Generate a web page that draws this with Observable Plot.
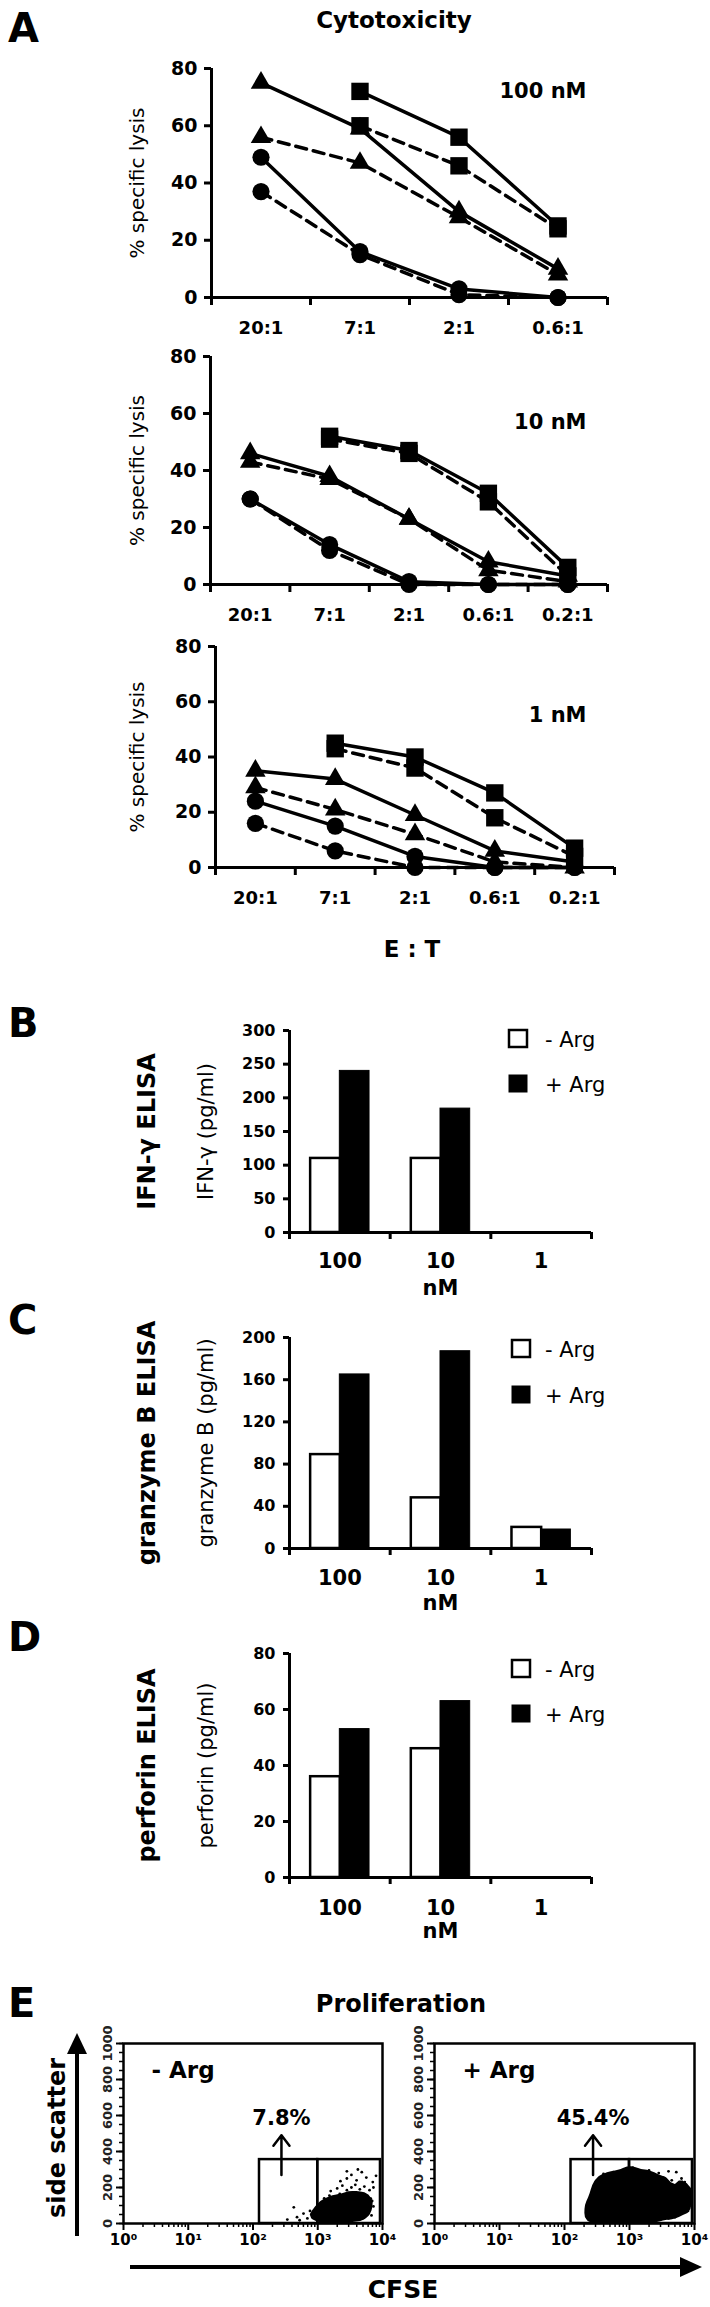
<!DOCTYPE html>
<html><head><meta charset="utf-8">
<script src="https://cdn.jsdelivr.net/npm/d3@7"></script>
<script src="https://cdn.jsdelivr.net/npm/@observablehq/plot@0.6"></script>
<style>
html,body{margin:0;padding:0;background:#fff;}
#fig{position:relative;width:710px;height:2307px;overflow:hidden;background:#fff;font-family:"DejaVu Sans",sans-serif;}
</style></head><body><div id="fig"></div>
<script>
const FONT = "DejaVu Sans";

// ---------- Panel A: cytotoxicity (% specific lysis) ----------
const ratios100nM = ["20:1", "7:1", "2:1", "0.6:1"];
const ratiosLow = ["20:1", "7:1", "2:1", "0.6:1", "0.2:1"];
const seriesSymbol = ["square", "square", "triangle", "triangle", "circle", "circle"];
const seriesDashed = [false, true, false, true, false, true];
const lysis100nM = [
  [null, 72, 56, 25],
  [null, 60, 46, 24],
  [75, 59, 30, 10],
  [56, 47, 28, 8],
  [49, 16, 3, 0],
  [37, 15, 1, 0]
];
const lysis10nM = [
  [null, 52, 47, 32, 6],
  [null, 51, 46, 29, 3],
  [46, 38, 23, 8, 3],
  [43, 37, 23, 5, 1],
  [30, 14, 1, 0, 0],
  [30, 12, 0, 0, 0]
];
const lysis1nM = [
  [null, 45, 40, 27, 7],
  [null, 43, 36, 18, 4],
  [35, 32, 19, 6, 2],
  [29, 21, 12, 2, 0],
  [24, 15, 4, 0, 0],
  [16, 6, 0, 0, 0]
];
const lysisTicks = [0, 20, 40, 60, 80];

// ---------- Panels B-D: ELISA ----------
const doses = ["100", "10", "1"];
const ifngMinusArg = [110, 110, 0];
const ifngPlusArg = [240, 184, 0];
const ifngTicks = [0, 50, 100, 150, 200, 250, 300];
const grzbMinusArg = [89, 48, 20];
const grzbPlusArg = [165, 187, 18];
const grzbTicks = [0, 40, 80, 120, 160, 200];
const perfMinusArg = [36, 46, 0];
const perfPlusArg = [53, 63, 0];
const perfTicks = [0, 20, 40, 60, 80];

// ---------- Panel E: proliferation (log10 CFSE, side scatter) ----------
const flowYTicks = [0, 200, 400, 600, 800, 1000];
const flowXTicks = [1, 10, 100, 1000, 10000];
const gateCFSE = [126, 1000, 9300];
const gateSSC = 355;
const proliferatedArrowCFSE = 275;
const proliferatedArrowSSC = [270, 490];
const pctLabelSSC = 585;
const minusArgPct = "7.8%";
const plusArgPct = "45.4%";
const minusArgEvents = [
  [2.53,22],[2.63,90],[2.68,35],[2.72,18],[2.78,55],[2.84,28],[2.88,70],[2.92,40],
  [2.95,30],[3.0,25],[3.05,35],[3.1,22],[3.15,30],[3.2,38],[3.25,25],[3.3,32],[3.35,20],[3.4,35],[3.45,28],[3.5,38],[3.55,25],[3.6,33],[3.65,40],[3.7,30],
  [2.97,55],[3.02,48],[3.07,62],[3.12,45],[3.17,58],[3.22,50],[3.27,65],[3.32,45],[3.37,58],[3.42,52],[3.47,68],[3.52,48],[3.57,60],[3.62,55],[3.67,65],[3.72,50],[3.78,60],[3.83,45],
  [3.08,70],[3.18,68],[3.28,72],[3.38,66],[3.48,74],[3.58,70],
  [3.0,80],[3.05,92],[3.1,75],[3.15,88],[3.2,78],[3.25,95],[3.3,82],[3.35,90],[3.4,76],[3.45,98],[3.5,84],[3.55,92],[3.6,78],[3.65,95],[3.7,85],[3.75,92],[3.8,80],[3.86,95],
  [3.05,110],[3.12,120],[3.18,105],[3.24,125],[3.3,112],[3.36,128],[3.42,108],[3.48,122],[3.54,115],[3.6,128],[3.66,110],[3.72,120],[3.78,112],[3.84,125],
  [3.1,140],[3.18,155],[3.26,145],[3.34,165],[3.4,140],[3.46,158],[3.52,148],[3.58,168],[3.64,145],[3.7,160],[3.76,150],[3.82,138],
  [3.2,180],[3.3,195],[3.38,210],[3.45,185],[3.52,200],[3.58,215],[3.65,190],[3.72,205],[3.8,185],[3.86,200],
  [3.35,235],[3.45,250],[3.52,270],[3.6,240],[3.68,285],[3.75,255],[3.85,230],[3.62,300],[3.45,290],[3.9,265],
  [3.03,40],[3.15,42],[3.27,38],[3.39,44],[3.51,40],[3.63,46],
  [3.03,75],[3.15,73],[3.27,78],[3.39,72],[3.51,77],[3.63,74],
  [3.09,100],[3.21,104],[3.33,98],[3.45,105],[3.57,101],[3.69,98]
];
const plusArgEvents = [
  [2.4,25],[2.5,30],[2.6,22],[2.7,28],[2.8,20],[2.9,30],[3.0,24],[3.1,28],[3.2,22],[3.3,30],[3.4,26],[3.5,32],[3.6,28],[3.7,35],
  [2.38,55],[2.46,60],[2.55,50],[2.64,58],[2.73,52],[2.82,62],[2.91,50],[3.0,58],[3.09,54],[3.18,62],[3.27,50],[3.36,58],[3.45,55],[3.54,62],[3.63,50],[3.72,58],[3.81,62],[3.9,70],
  [2.4,90],[2.48,95],[2.57,85],[2.66,92],[2.75,88],[2.84,98],[2.93,85],[3.02,95],[3.11,88],[3.2,92],[3.29,85],[3.38,96],[3.47,88],[3.56,94],[3.65,86],[3.74,98],[3.83,90],[3.92,95],
  [2.42,125],[2.5,130],[2.59,120],[2.68,128],[2.77,122],[2.86,132],[2.95,120],[3.04,130],[3.13,124],[3.22,132],[3.31,120],[3.4,128],[3.49,122],[3.58,130],[3.67,118],[3.76,126],[3.85,135],[3.93,120],
  [2.44,160],[2.53,168],[2.62,155],[2.71,165],[2.8,158],[2.89,170],[2.98,155],[3.07,165],[3.16,160],[3.25,170],[3.34,155],[3.43,165],[3.52,158],[3.62,168],[3.72,155],[3.82,162],[3.9,175],
  [2.46,200],[2.55,205],[2.64,195],[2.73,210],[2.82,198],[2.91,208],[3.0,195],[3.09,205],[3.18,200],[3.27,210],[3.36,195],[3.45,205],[3.55,215],[3.66,200],[3.78,210],[3.88,198],
  [2.5,240],[2.6,245],[2.7,235],[2.8,250],[2.9,238],[3.0,248],[3.1,240],[3.2,252],[3.3,236],[3.4,245],[3.52,255],[3.65,240],[3.8,250],
  [2.6,275],[2.75,285],[2.88,290],[3.0,280],[3.1,300],[3.2,285],[3.3,295],[3.45,280],[3.6,290],[3.72,285],
  [2.35,40],[2.36,110],[3.05,310],[2.95,305],[3.85,230],[3.92,180],
  [2.42,40],[2.54,42],[2.66,38],[2.78,44],[2.9,40],[3.02,42],[3.14,38],[3.26,44],[3.38,40],
  [2.44,75],[2.56,73],[2.68,77],[2.8,72],[2.92,76],[3.04,74],[3.16,78],[3.28,73],[3.4,75],
  [2.45,108],[2.57,110],[2.69,106],[2.81,111],[2.93,107],[3.05,109],[3.17,105],[3.29,110],[3.41,108],
  [2.47,143],[2.59,140],[2.71,146],[2.83,142],[2.95,145],[3.07,141],[3.19,147],[3.31,143],[3.43,140],
  [2.5,182],[2.62,180],[2.74,185],[2.86,181],[2.98,184],[3.1,179],[3.22,186],[3.34,182],[3.46,180],
  [2.55,222],[2.67,220],[2.79,225],[2.91,219],[3.03,224],[3.15,221],[3.27,226],[3.39,220],
  [2.65,260],[2.78,262],[2.92,258],[3.05,264],[3.18,260],[3.32,263]
];

const fig = document.getElementById("fig");
const baseStyle = {fontFamily: FONT, fontWeight: "bold", fontSize: "17px", background: "none", overflow: "visible"};
function place(el, left, top) {
  el.style.position = "absolute";
  el.style.left = left + "px";
  el.style.top = top + "px";
  fig.appendChild(el);
}

function lysisChart({ratios, values, conc, top, height, frame, concDx, concDy}) {
  const n = ratios.length;
  const rows = [];
  values.forEach((vals, s) => vals.forEach((v, i) => { if (v != null) rows.push({s, i, v}); }));
  const xPos = d => d.i + 0.5;
  const el = Plot.plot({
    width: 710, height,
    marginLeft: frame.left, marginRight: 710 - frame.right,
    marginTop: frame.top - top, marginBottom: top + height - frame.bottom,
    x: {domain: [0, n]},
    y: {domain: [0, 80]},
    style: baseStyle,
    marks: [
      Plot.axisY({ticks: lysisTicks, tickSize: 7, tickPadding: 7, strokeWidth: 3, fontSize: 19, fontWeight: "bold", label: null}),
      Plot.axisX({ticks: d3.range(n + 1), tickSize: 8, strokeWidth: 3, tickFormat: () => "", label: null}),
      Plot.axisX({ticks: d3.range(n).map(i => i + 0.5), tickSize: 0, tickPadding: 24, tickFormat: d => ratios[Math.floor(d)], fontSize: 18, fontWeight: "bold", label: null}),
      Plot.ruleX([0], {strokeWidth: 3}),
      Plot.ruleY([0], {strokeWidth: 3}),
      Plot.line(rows.filter(d => !seriesDashed[d.s]), {x: xPos, y: "v", z: "s", stroke: "black", strokeWidth: 3.5}),
      Plot.line(rows.filter(d => seriesDashed[d.s]), {x: xPos, y: "v", z: "s", stroke: "black", strokeWidth: 3.5, strokeDasharray: "11,7"}),
      Plot.dot(rows.filter(d => seriesSymbol[d.s] === "square"), {x: xPos, y: "v", symbol: "square", r: 9.8, fill: "black"}),
      Plot.dot(rows.filter(d => seriesSymbol[d.s] === "triangle"), {x: xPos, y: "v", symbol: "triangle", r: 7.6, fill: "black"}),
      Plot.dot(rows.filter(d => seriesSymbol[d.s] === "circle"), {x: xPos, y: "v", symbol: "circle", r: 8.6, fill: "black"}),
      Plot.text([conc], {frameAnchor: "top-right", dx: concDx, dy: concDy, textAnchor: "end", lineAnchor: "middle", fontSize: 21, fontWeight: "bold"}),
      Plot.text(["% specific lysis"], {frameAnchor: "left", dx: 137 - frame.left, rotate: -90, textAnchor: "middle", lineAnchor: "middle", fontSize: 20, fontWeight: "normal"})
    ]
  });
  place(el, 0, top);
}

lysisChart({ratios: ratios100nM, values: lysis100nM, conc: "100 nM", top: 40, height: 310,
  frame: {left: 211, right: 607, top: 68, bottom: 297}, concDx: -21, concDy: 22.5});
lysisChart({ratios: ratiosLow, values: lysis10nM, conc: "10 nM", top: 340, height: 300,
  frame: {left: 210, right: 607, top: 356, bottom: 584}, concDx: -21, concDy: 65.5});
lysisChart({ratios: ratiosLow, values: lysis1nM, conc: "1 nM", top: 630, height: 300,
  frame: {left: 215, right: 614, top: 646, bottom: 867}, concDx: -28, concDy: 68.5});

function barChart({minus, plus, ticks, title, ylabel, top, height, frame, labelPad, nmDy}) {
  const n = doses.length;
  const rows = [];
  doses.forEach((d, i) => {
    rows.push({i, g: 0, v: minus[i]});
    rows.push({i, g: 1, v: plus[i]});
  });
  const barStart = [0.21, 0.5], barWidth = 0.295;
  const x1 = d => d.i + barStart[d.g], x2 = d => d.i + barStart[d.g] + barWidth;
  const el = Plot.plot({
    width: 710, height,
    marginLeft: frame.left, marginRight: 710 - frame.right,
    marginTop: frame.top - top, marginBottom: top + height - frame.bottom,
    x: {domain: [0, n]},
    y: {domain: [0, ticks[ticks.length - 1]]},
    style: baseStyle,
    marks: [
      Plot.rectY(rows.filter(d => d.g === 0 && d.v > 0), {x1, x2, y: "v", fill: "white", stroke: "black", strokeWidth: 2.5}),
      Plot.rectY(rows.filter(d => d.g === 1 && d.v > 0), {x1, x2, y: "v", fill: "black", stroke: "black", strokeWidth: 1}),
      Plot.axisY({ticks, tickSize: 6, tickPadding: 8, strokeWidth: 3, fontSize: 16, fontWeight: "bold", label: null}),
      Plot.axisX({ticks: d3.range(n + 1), tickSize: 7, strokeWidth: 3, tickFormat: () => "", label: null}),
      Plot.axisX({ticks: d3.range(n).map(i => i + 0.5), tickSize: 0, tickPadding: labelPad, tickFormat: d => doses[Math.floor(d)], fontSize: 21, fontWeight: "bold", label: null}),
      Plot.ruleX([0], {strokeWidth: 3}),
      Plot.ruleY([0], {strokeWidth: 3}),
      Plot.text(["nM"], {frameAnchor: "bottom", dy: nmDy, lineAnchor: "middle", fontSize: 21, fontWeight: "bold"}),
      Plot.text([title], {frameAnchor: "left", dx: 147 - frame.left, rotate: -90, textAnchor: "middle", lineAnchor: "middle", fontSize: 24, fontWeight: "bold"}),
      Plot.text([ylabel], {frameAnchor: "left", dx: 206 - frame.left, rotate: -90, textAnchor: "middle", lineAnchor: "middle", fontSize: 21, fontWeight: "normal"})
    ]
  });
  place(el, 0, top);
}

barChart({minus: ifngMinusArg, plus: ifngPlusArg, ticks: ifngTicks, title: "IFN-γ ELISA", ylabel: "IFN-γ (pg/ml)",
  top: 1000, height: 310, frame: {left: 289, right: 591, top: 1030, bottom: 1232}, labelPad: 21, nmDy: 55.5});
barChart({minus: grzbMinusArg, plus: grzbPlusArg, ticks: grzbTicks, title: "granzyme B ELISA", ylabel: "granzyme B (pg/ml)",
  top: 1310, height: 310, frame: {left: 289, right: 591, top: 1337, bottom: 1548}, labelPad: 22, nmDy: 54.5});
barChart({minus: perfMinusArg, plus: perfPlusArg, ticks: perfTicks, title: "perforin ELISA", ylabel: "perforin (pg/ml)",
  top: 1630, height: 320, frame: {left: 289, right: 591, top: 1653, bottom: 1877}, labelPad: 23, nmDy: 53.5});

function flowChart({events, pct, cond, svgLeft, svgWidth, top, height, frame, bandwidth}) {
  const sup = ["\u2070", "\u00B9", "\u00B2", "\u00B3", "\u2074"];
  const xMinor = [];
  for (let e = 0; e < 4; e++) for (let m = 2; m <= 9; m++) xMinor.push(m * 10 ** e);
  const yMinor = d3.range(0, 1001, 50);
  const gates = [{x1: gateCFSE[0], x2: gateCFSE[1]}, {x1: gateCFSE[1], x2: gateCFSE[2]}];
  const ex = d => 10 ** d[0], ey = d => d[1];
  const el = Plot.plot({
    width: svgWidth, height,
    marginLeft: frame.left - svgLeft, marginRight: svgLeft + svgWidth - frame.right,
    marginTop: frame.top - top, marginBottom: top + height - frame.bottom,
    x: {type: "log", domain: [1, 1e4]},
    y: {domain: [0, 1000]},
    style: baseStyle,
    marks: [
      Plot.density(events, {x: ex, y: ey, fill: "black", stroke: "none", bandwidth, thresholds: 3}),
      Plot.dot(events, {x: ex, y: ey, r: 1.4, fill: "black"}),
      Plot.rect(gates, {x1: "x1", x2: "x2", y1: () => 0, y2: () => gateSSC, fill: "none", stroke: "black", strokeWidth: 2.5}),
      Plot.frame({stroke: "black", strokeWidth: 2.5}),
      Plot.axisY({ticks: yMinor, tickSize: 4, strokeWidth: 1.5, tickFormat: () => "", label: null}),
      Plot.axisY({ticks: flowYTicks, tickSize: 7, strokeWidth: 2, tickFormat: () => "", label: null}),
      Plot.text(flowYTicks, {y: d => d, text: d => String(d), frameAnchor: "left", dx: -16, rotate: -90, textAnchor: "middle", lineAnchor: "middle", fontSize: 13, fill: "#222"}),
      Plot.axisX({ticks: xMinor, tickSize: 4, strokeWidth: 1.5, tickFormat: () => "", label: null}),
      Plot.axisX({ticks: flowXTicks, tickSize: 7, tickPadding: 4, strokeWidth: 2, fontSize: 15, tickFormat: d => "10" + sup[Math.round(Math.log10(d))], label: null}),
      Plot.arrow([0], {x1: () => proliferatedArrowCFSE, x2: () => proliferatedArrowCFSE, y1: () => proliferatedArrowSSC[0], y2: () => proliferatedArrowSSC[1], stroke: "black", strokeWidth: 2.5, headLength: 14, headAngle: 75}),
      Plot.text([pct], {x: () => proliferatedArrowCFSE, y: () => pctLabelSSC, lineAnchor: "middle", fontSize: 21, fontWeight: "bold"}),
      Plot.text([cond], {frameAnchor: "top-left", dx: 28, dy: 27, textAnchor: "start", lineAnchor: "middle", fontSize: 23, fontWeight: "bold"})
    ]
  });
  place(el, svgLeft, top);
}

flowChart({events: minusArgEvents, pct: minusArgPct, cond: "- Arg", svgLeft: 0, svgWidth: 410, top: 2030, height: 245,
  frame: {left: 123, right: 382, top: 2043, bottom: 2223}, bandwidth: 2.5});
flowChart({events: plusArgEvents, pct: plusArgPct, cond: "+ Arg", svgLeft: 400, svgWidth: 310, top: 2030, height: 245,
  frame: {left: 434, right: 694, top: 2043, bottom: 2223}, bandwidth: 3});

// ---------- Figure annotations (panel letters, titles, legends, arrows) ----------
const ov = d3.select(fig).append("svg")
  .attr("width", 710).attr("height", 2307)
  .style("position", "absolute").style("left", "0px").style("top", "0px")
  .attr("font-family", FONT);
function txt(x, y, s, {size = 20, weight = "bold", anchor = "start", rotate = 0} = {}) {
  const t = ov.append("text").attr("font-size", size).attr("font-weight", weight).attr("text-anchor", anchor).text(s);
  if (rotate) t.attr("transform", `translate(${x},${y}) rotate(${rotate})`).attr("dominant-baseline", "central");
  else t.attr("x", x).attr("y", y);
}
txt(8, 42, "A", {size: 40});
txt(8, 1037, "B", {size: 40});
txt(8, 1334, "C", {size: 40});
txt(8, 1651, "D", {size: 40});
txt(8, 2017, "E", {size: 40});
txt(394, 28, "Cytotoxicity", {size: 23, anchor: "middle"});
txt(412, 957, "E : T", {size: 23, anchor: "middle"});
txt(401, 2012, "Proliferation", {size: 24, anchor: "middle"});
txt(57, 2138, "side scatter", {size: 24, anchor: "middle", rotate: -90});
txt(403, 2298, "CFSE", {size: 25, anchor: "middle"});

const legendLabels = ["- Arg", "+ Arg"];
function legend(x, ys) {
  ys.forEach((y, k) => {
    ov.append("rect").attr("x", x).attr("y", y).attr("width", 18).attr("height", 17)
      .attr("fill", k ? "black" : "white").attr("stroke", "black").attr("stroke-width", k ? 1 : 2.5);
    txt(545, y + 17, legendLabels[k], {size: 21, weight: "normal"});
  });
}
legend(509, [1030, 1075]);
legend(512, [1340, 1386]);
legend(512, [1660, 1705]);

ov.append("line").attr("x1", 77).attr("x2", 77).attr("y1", 2236).attr("y2", 2050).attr("stroke", "black").attr("stroke-width", 4);
ov.append("path").attr("d", "M67,2054L87,2054L77,2033Z").attr("fill", "black");
ov.append("line").attr("x1", 130).attr("x2", 682).attr("y1", 2267).attr("y2", 2267).attr("stroke", "black").attr("stroke-width", 4);
ov.append("path").attr("d", "M680,2257L680,2277L702,2267Z").attr("fill", "black");
</script></body></html>
